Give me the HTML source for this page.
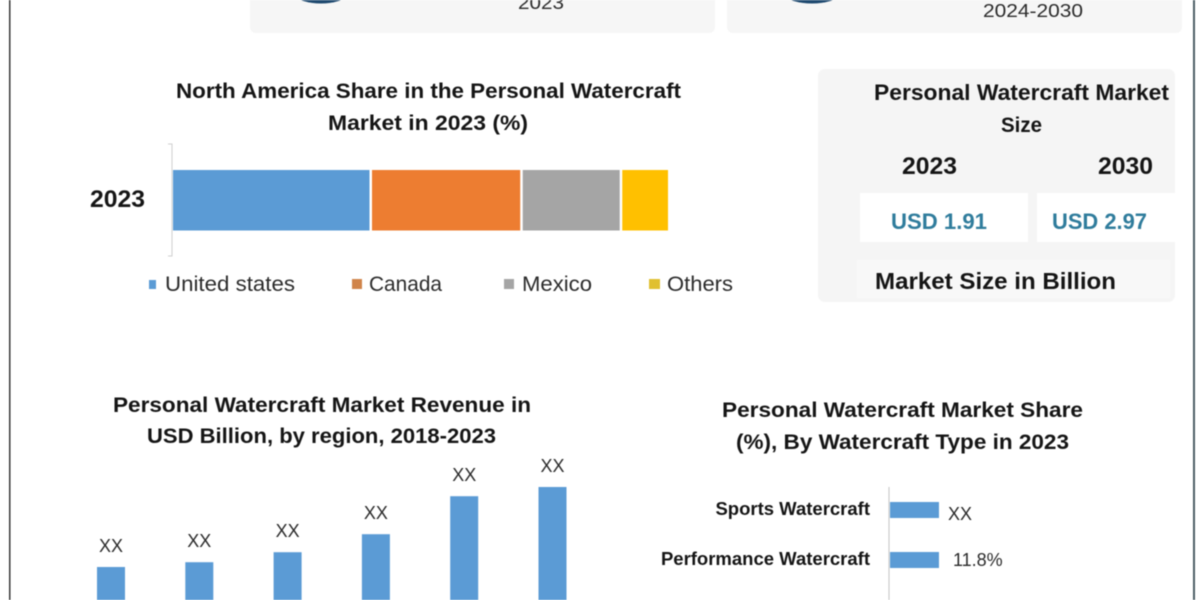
<!DOCTYPE html>
<html lang="en">
<head>
<meta charset="utf-8">
<title>Personal Watercraft Market</title>
<style>
html,body{margin:0;padding:0;background:#fff;width:1200px;height:600px;overflow:hidden}
svg{display:block;filter:blur(.5px)}
text{font-family:"Liberation Sans",sans-serif;fill:#151515}
.t{font-weight:700;font-size:21px}
.l{font-size:21px;fill:#2b2b2b}
.d{font-size:18px;fill:#2b2b2b}
.c{font-weight:700;font-size:18.5px;text-anchor:end}
.u{font-weight:700;font-size:22px;fill:#2f7c9c}
</style>
</head>
<body>
<svg id="root" xmlns="http://www.w3.org/2000/svg" width="1200" height="600" viewBox="0 0 1200 600">
  <rect x="9" y="0" width="1.5" height="600" fill="#3a3a3a"/>
  <rect x="1193" y="0" width="2" height="600" fill="#4d5f66"/>

  <rect x="250" y="-20" width="465" height="53" rx="6" fill="#f6f6f6"/>
  <rect x="727" y="-20" width="455" height="53" rx="6" fill="#f6f6f6"/>
  <ellipse cx="321" cy="-4.5" rx="24" ry="8" fill="#1f4a70"/>
  <ellipse cx="812" cy="-4.5" rx="25" ry="8" fill="#1f4a70"/>
  <text class="d" x="518" y="9" textLength="46" lengthAdjust="spacingAndGlyphs">2023</text>
  <text class="d" x="983" y="17" textLength="100" lengthAdjust="spacingAndGlyphs">2024-2030</text>

  <text class="t" x="176" y="98" textLength="505" lengthAdjust="spacingAndGlyphs">North America Share in the Personal Watercraft</text>
  <text class="t" x="328" y="130" textLength="200" lengthAdjust="spacingAndGlyphs">Market in 2023 (%)</text>
  <text class="t" x="90" y="207" textLength="55" lengthAdjust="spacingAndGlyphs" style="font-size:24px">2023</text>
  <path d="M168 144H172V256H168" fill="none" stroke="#cfcfcf" stroke-width="1"/>
  <g id="stack"></g>

  <g>
    <rect x="149" y="280" width="7" height="9" fill="#5b9bd5"/>
    <text class="l" x="165" y="291" textLength="130" lengthAdjust="spacingAndGlyphs">United states</text>
    <rect x="352" y="279" width="10" height="10" fill="#d0844a"/>
    <text class="l" x="369" y="291" textLength="73" lengthAdjust="spacingAndGlyphs">Canada</text>
    <rect x="504" y="279" width="10" height="10" fill="#a5a5a5"/>
    <text class="l" x="522" y="291" textLength="70" lengthAdjust="spacingAndGlyphs">Mexico</text>
    <rect x="649" y="279" width="11" height="10" fill="#e0c030"/>
    <text class="l" x="667" y="291" textLength="66" lengthAdjust="spacingAndGlyphs">Others</text>
  </g>

  <rect x="818" y="69" width="357" height="233" rx="7" fill="#f5f5f5"/>
  <text class="t" x="874" y="100" textLength="295" lengthAdjust="spacingAndGlyphs" style="font-size:22px">Personal Watercraft Market</text>
  <text class="t" x="1001" y="132" textLength="41" lengthAdjust="spacingAndGlyphs">Size</text>
  <text class="t" x="902" y="174" textLength="55" lengthAdjust="spacingAndGlyphs" style="font-size:24px">2023</text>
  <text class="t" x="1098" y="174" textLength="55" lengthAdjust="spacingAndGlyphs" style="font-size:24px">2030</text>
  <rect x="860" y="193" width="168" height="49" fill="#fff"/>
  <rect x="1037" y="193" width="138" height="49" fill="#fff"/>
  <text class="u" x="891" y="229" textLength="96" lengthAdjust="spacingAndGlyphs">USD 1.91</text>
  <text class="u" x="1052" y="229" textLength="95" lengthAdjust="spacingAndGlyphs">USD 2.97</text>
  <rect x="857" y="260" width="313" height="38" fill="#f8f8f8"/>
  <text class="t" x="875" y="289" textLength="241" lengthAdjust="spacingAndGlyphs" style="font-size:23px">Market Size in Billion</text>

  <text class="t" x="113" y="412" textLength="418" lengthAdjust="spacingAndGlyphs">Personal Watercraft Market Revenue in</text>
  <text class="t" x="147" y="443" textLength="349" lengthAdjust="spacingAndGlyphs">USD Billion, by region, 2018-2023</text>
  <g id="columns"></g>

  <text class="t" x="722" y="417" textLength="361" lengthAdjust="spacingAndGlyphs">Personal Watercraft Market Share</text>
  <text class="t" x="736" y="449" textLength="333" lengthAdjust="spacingAndGlyphs">(%), By Watercraft Type in 2023</text>
  <line x1="889" y1="487" x2="889" y2="600" stroke="#c4c4c4" stroke-width="1"/>
  <g id="rows"></g>
</svg>

<script>
var shareCategories = ["United states", "Canada", "Mexico", "Others"];
var shareValues = [40, 30.3, 20, 9.7];
var shareColors = ["#5b9bd5", "#ed7d31", "#a5a5a5", "#ffc000"];

var revenueYears = ["2018", "2019", "2020", "2021", "2022", "2023"];
var revenueValues = [1.5, 1.62, 1.87, 2.32, 3.27, 3.5];
var revenueLabels = ["XX", "XX", "XX", "XX", "XX", "XX"];

var typeCategories = ["Sports Watercraft", "Performance Watercraft", "Luxury Watercraft"];
var typeValues = [11.8, 11.8, 11.8];
var typeLabels = ["XX", "11.8%", "xx%"];

var NS = "http://www.w3.org/2000/svg";
function make(tag, parent, attrs) {
  var el = document.createElementNS(NS, tag);
  for (var k in attrs) { el.setAttribute(k, attrs[k]); }
  parent.appendChild(el);
  return el;
}

/* stacked share bar */
function shareX(v) { return 173 + v * 4.975; }
var stack = document.getElementById("stack");
var running = 0;
shareValues.forEach(function (v, i) {
  var x0 = shareX(running);
  var x1 = shareX(running + v);
  var seg = make("rect", stack, { x: x0, y: 170, width: Math.max(x1 - x0 - 2.5, 0), height: 60.5, fill: shareColors[i] });
  
  
  running += v;
});

/* revenue columns */
function colX(i) { return 97 + i * 88.3; }
function colY(v) { return 627 - v * 40; }
var columns = document.getElementById("columns");
revenueValues.forEach(function (v, i) {
  var top = colY(v);
  var bar = make("rect", columns, { x: colX(i), y: top, width: 28, height: colY(0) - top, fill: "#5b9bd5" });
  
  
  var lab = make("text", columns, { x: colX(i) + 14, y: top - 15, "text-anchor": "middle", "class": "d" });
  
  
  lab.textContent = revenueLabels[i];
});

/* watercraft type rows */
function rowY(i) { return 510 + i * 50 - (i === 2 ? 1 : 0); }
function rowW(v) { return v * 4.15; }
var rows = document.getElementById("rows");
typeCategories.forEach(function (name, i) {
  var slug = name.toLowerCase().replace(/\s+/g, '-');
  var c = rowY(i);
  var w = rowW(typeValues[i]);
  var lab = make("text", rows, { x: 870, y: c + 5, "class": "c" });
  
  
  lab.textContent = name;
  var bar = make("rect", rows, { x: 890, y: c - 8 + (i === 2 ? 1 : 0), width: w, height: 16, fill: "#5b9bd5" });
  
  
  var val = make("text", rows, { x: 890 + w + (i === 0 ? 9 : 14), y: c + 6 + (i === 0 ? 4 : 0), "class": "d" });
  
  
  val.textContent = typeLabels[i];
});
</script>
</body>
</html>
